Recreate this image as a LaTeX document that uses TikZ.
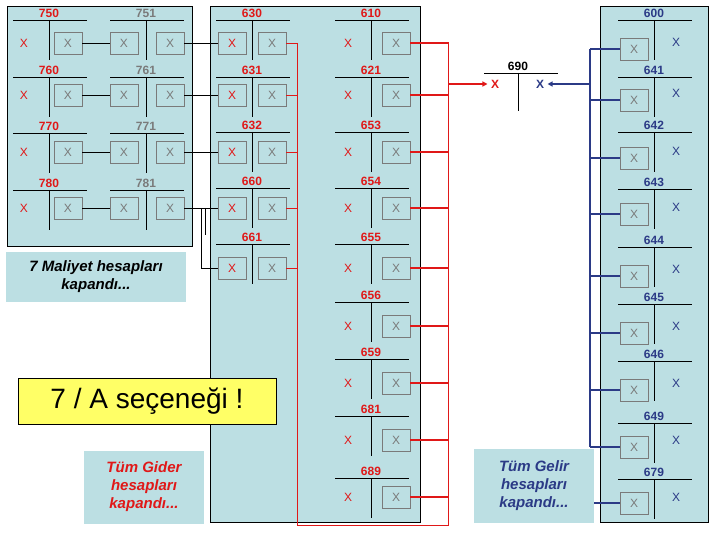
\documentclass[tikz,border=0pt]{standalone}
\usepackage{fontspec}
\setmainfont{Liberation Sans}
\usetikzlibrary{arrows.meta}
\definecolor{pan}{HTML}{BCDFE3}
\definecolor{rd}{HTML}{E01818}
\definecolor{bl}{HTML}{2B3A86}
\definecolor{gx}{HTML}{7A7A7A}
\definecolor{yl}{HTML}{FFFF66}
\begin{document}
\begin{tikzpicture}[x=1pt,y=-1pt,
  panel/.style={draw=black,fill=pan,line width=0.8pt},
  lbl/.style={fill=pan,align=center,font=\bfseries\itshape\fontsize{15}{18}\selectfont},
  xb/.style={draw=gx,minimum width=28pt,minimum height=22pt,inner sep=0pt,font=\fontsize{12}{12}\selectfont},
  xt/.style={font=\fontsize{12}{12}\selectfont},
  num/.style={font=\bfseries\fontsize{12}{12}\selectfont,inner sep=0pt,fill=pan,inner xsep=1pt},
  tl/.style={line width=0.8pt}]
\useasboundingbox (0,0) rectangle (720,540);
% panels
\draw[panel] (7,6) rectangle (192,246);
\draw[panel] (210,6) rectangle (420,522);
\draw[panel] (600,6) rectangle (708,522);
\draw[rd,line width=0.8pt] (297,43) -- (297,525) -- (448,525) -- (448,42);
\newcommand{\tacc}[5]{%
  \draw[tl] (#2-36,#3) -- (#2+38,#3);
  \draw[tl] (#2,#3) -- (#2,#3+40);
  \node[num,text=#5] (#1) at (#2,#3-7) {#4};}
% left panel
\foreach \n/\y/\xy in {750/20/43,760/77/95,770/133/152,780/190/208}{
  \tacc{a\n}{49}{\y}{\n}{rd}
  \node[xt,text=rd] (l\n) at (24,\xy) {X};
  \node[xb,text=gx] (r\n) at (68,\xy) {X};}
\foreach \n/\y/\xy/\p in {751/20/43/750,761/77/95/760,771/133/152/770,781/190/208/780}{
  \tacc{a\n}{146}{\y}{\n}{gx}
  \node[xb,text=gx] (l\n) at (124,\xy) {X};
  \node[xb,text=gx] (r\n) at (170,\xy) {X};
  \draw (r\p) -- (l\n);}
% 630 column
\foreach \n/\y/\xy in {630/20/43,631/77/95,632/132/152,660/188/208,661/244/268}{
  \tacc{a\n}{252}{\y}{\n}{rd}
  \node[xb,text=rd] (l\n) at (232,\xy) {X};
  \node[xb,text=gx] (r\n) at (272,\xy) {X};
  \draw[rd] (r\n) -- (297,\xy);}
\draw (r751) -- (l630);
\draw (r761) -- (l631);
\draw (r771) -- (l632);
\draw (r781) -- (l660);
\draw (201,208) -- (201,268) -- (l661);
\draw (205,208) -- (205,235);
% 610 column
\foreach \n/\y/\xy in {610/20/43,621/77/95,653/132/152,654/188/208,655/244/268,656/302/326,659/359/383,681/416/440,689/478/497}{
  \tacc{a\n}{371}{\y}{\n}{rd}
  \node[xt,text=rd] (l\n) at (348,\xy) {X};
  \node[xb,text=gx] (r\n) at (396,\xy) {X};
  \draw[rd,line width=1.4pt] (r\n) -- (448,\xy);}
% 690
\draw[tl] (484,73) -- (558,73);
\draw[tl] (518,73) -- (518,111);
\node[font=\bfseries\fontsize{12}{12}\selectfont,inner sep=0pt] (a690) at (518,66) {690};
\node[text=rd,font=\bfseries\fontsize{12}{12}\selectfont] (x690l) at (495,84) {X};
\node[text=bl,font=\bfseries\fontsize{12}{12}\selectfont] (x690r) at (540,84) {X};
\coordinate (rj) at (448,84);
\coordinate (bj) at (590,84);
\draw[rd,line width=1.4pt,-{Triangle[length=5pt,width=5pt]}] (rj) -- (x690l);
\draw[bl,line width=1.4pt,-{Triangle[length=5pt,width=5pt]}] (bj) -- (x690r);
% right column
\foreach \n/\y/\by/\xy in {600/20/49/42,641/77/100/93,642/132/158/151,643/189/214/207,644/247/276/269,645/304/333/326,646/361/390/383,649/423/447/440,679/479/503/497}{
  \tacc{a\n}{654}{\y}{\n}{bl}
  \node[xb,text=gx] (l\n) at (634,\by) {X};
  \node[xt,text=bl] (r\n) at (676,\xy) {X};}
\draw[bl,line width=1.4pt] (590,49) -- (590,447);
\foreach \n/\by in {600/49,641/100,642/158,643/214,644/276,645/333,646/390,649/447}{
  \draw[bl,line width=1.4pt] (590,\by) -- (l\n);}
% labels
\node[lbl,minimum width=180pt,minimum height=50pt] (m7) at (96,277) {7 Maliyet hesapları\\kapandı...};
\node[lbl,text=rd,minimum width=120pt,minimum height=73pt] (tg) at (144,487) {Tüm Gider\\hesapları\\kapandı...};
\node[lbl,text=bl,minimum width=120pt,minimum height=74pt] (tgl) at (534,486) {Tüm Gelir\\hesapları\\kapandı...};
\draw[bl,line width=1.4pt] (tgl.east |- l679) -- (l679);
\node[draw=black,fill=yl,minimum width=258pt,minimum height=46pt,font=\fontsize{28}{30}\selectfont] (ya) at (147,401) {7 / A seçeneği !};
\end{tikzpicture}
\end{document}
